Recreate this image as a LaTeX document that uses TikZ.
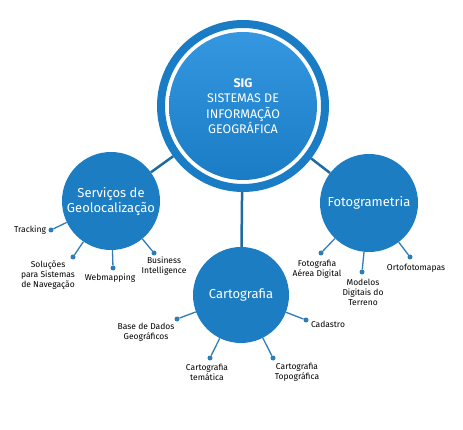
\documentclass[tikz,border=0pt]{standalone}
\usepackage{fontspec}
\setmainfont{Fira Sans}
\usetikzlibrary{calc}
\definecolor{ringblue}{HTML}{1A7CC4}
\definecolor{topblue}{HTML}{3597E0}
\definecolor{botblue}{HTML}{1B7CC6}
\definecolor{nodeblue}{HTML}{1C7DC3}
\definecolor{linkblue}{HTML}{1F6BA0}
\definecolor{leafblue}{HTML}{2D7DB8}
\tikzset{%
  topic/.style={circle,fill=nodeblue,minimum size=98pt,inner sep=0pt,
    text=white,font=\fontsize{13}{15}\selectfont,align=center},
  link/.style={draw=linkblue,line width=2.5pt},
  leaf/.style={circle,fill=leafblue,minimum size=5pt,inner sep=0pt},
  twig/.style={draw=leafblue,line width=1.3pt},
  leaftext/.style={font=\fontsize{8.5}{10}\selectfont,align=center,
    text=black,inner sep=0pt},
}
\begin{document}
\begin{tikzpicture}[x=1pt,y=-1pt]
  \useasboundingbox (0,0) rectangle (463,430);
  % central circle with ring
  \node[circle,minimum size=164pt,inner sep=0pt,draw=ringblue,
        line width=8pt] (sig) at (243,106) {};
  \node[circle,minimum size=148pt,inner sep=0pt,top color=topblue,
        bottom color=botblue,text=white,align=center,
        font=\fontsize{12.5}{15.5}\selectfont] (sigtext) at (sig)
        {{\bfseries SIG}\\SISTEMAS DE\\INFORMAÇÃO\\GEOGRÁFICA};
  % topics
  \node[topic] (serv) at (111,201) {Serviços de\\Geolocalização};
  \node[topic] (foto) at (369,203) {Fotogrametria};
  \node[topic,minimum size=96pt] (carto) at (241,295) {Cartografia};
  \draw[link] (sig) -- (serv);
  \draw[link] (sig) -- (foto);
  \draw[link] (sig) -- (carto);
  % leaves of serv
  \node[leaf] (track) at (51,230) {};
  \node[leaf] (nav) at (73,257) {};
  \node[leaf] (web) at (113,268) {};
  \node[leaf] (bi) at (154,253) {};
  \foreach \l in {track,nav,web,bi} \draw[twig] (serv) -- (\l);
  \node[leaftext] (tracktext) at (30,230) {Tracking};
  \node[leaftext] (navtext) at (48,275) {Soluções\\para Sistemas\\de Navegação};
  \node[leaftext] (webtext) at (110,278) {Webmapping};
  \node[leaftext] (bitext) at (164,266) {Business\\Intelligence};
  % leaves of foto
  \node[leaf] (aerea) at (321,253) {};
  \node[leaf] (mdt) at (362,272) {};
  \node[leaf] (orto) at (410,257) {};
  \foreach \l in {aerea,mdt,orto} \draw[twig] (foto) -- (\l);
  \node[leaftext] (aereatext) at (317,269) {Fotografia\\Aérea Digital};
  \node[leaftext] (mdttext) at (363,292) {Modelos\\Digitais do\\Terreno};
  \node[leaftext] (ortotext) at (416,268) {Ortofotomapas};
  % leaves of carto
  \node[leaf] (base) at (177,319) {};
  \node[leaf] (tema) at (210,358) {};
  \node[leaf] (topo) at (273,358) {};
  \node[leaf] (cad) at (306,320) {};
  \foreach \l in {base,tema,topo,cad} \draw[twig] (carto) -- (\l);
  \node[leaftext] (basetext) at (146,332) {Base de Dados\\Geográficos};
  \node[leaftext] (tematext) at (207,372) {Cartografia\\temática};
  \node[leaftext] (topotext) at (297,372) {Cartografia\\Topográfica};
  \node[leaftext] (cadtext) at (328,324) {Cadastro};
\end{tikzpicture}
\end{document}
